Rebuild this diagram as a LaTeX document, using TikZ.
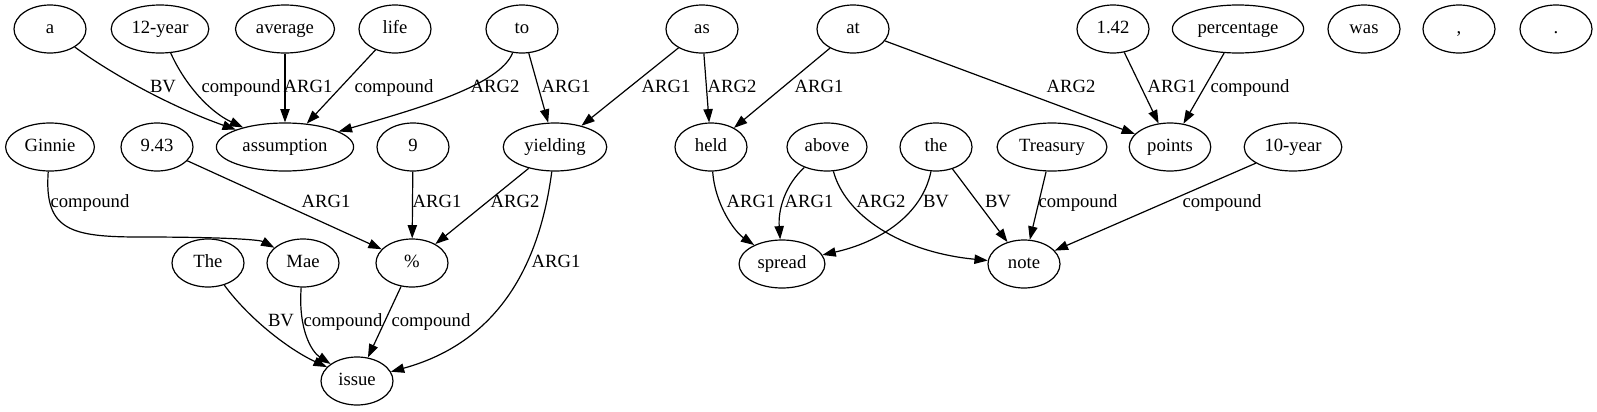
\documentclass[tikz,border=0pt]{standalone}
\usepackage{fontspec}
\setmainfont{Liberation Serif}
\usetikzlibrary{arrows.meta,shapes.geometric}

\begin{document}
\begin{tikzpicture}
  [
    x=0.75pt, y=-0.75pt,
    >={Triangle[length=10pt, width=7pt]},
    word/.style={draw, ellipse, line width=0.9pt, minimum width=54pt, minimum height=36pt,
      inner xsep=4.5pt, inner ysep=1pt, text height=10pt, text depth=3pt,
      font=\fontsize{14}{16}\selectfont},
    lbl/.style={inner sep=0pt, text height=10pt, text depth=3pt, font=\fontsize{14}{16}\selectfont},
    dep/.style={->, line width=0.9pt},
  ]
  \useasboundingbox (0,0) rectangle (1597,411);

  % first row
  \node [word] (a) at (50,29) {a};
  \node [word] (y12) at (160,29) {12-year};
  \node [word] (average) at (285,29) {average};
  \node [word] (life) at (395,29) {life};
  \node [word] (to) at (522,29) {to};
  \node [word] (as) at (702,29) {as};
  \node [word] (at) at (853,29) {at};
  \node [word] (p142) at (1113,29) {1.42};
  \node [word] (percentage) at (1238,29) {percentage};
  \node [word] (was) at (1364,29) {was};
  \node [word] (comma) at (1459,29) {,};
  \node [word] (period) at (1556,29) {.};

  % second row
  \node [word] (ginnie) at (50,147) {Ginnie};
  \node [word] (p943) at (157,147) {9.43};
  \node [word] (assumption) at (285,147) {assumption};
  \node [word] (nine) at (413,147) {9};
  \node [word] (yielding) at (555,147) {yielding};
  \node [word] (held) at (711,147) {held};
  \node [word] (above) at (827,147) {above};
  \node [word] (the) at (936,147) {the};
  \node [word] (treasury) at (1052,147) {Treasury};
  \node [word] (points) at (1170,147) {points};
  \node [word] (y10) at (1293,147) {10-year};

  % third and fourth row
  \node [word] (The) at (208,263) {The};
  \node [word] (mae) at (303,263) {Mae};
  \node [word] (pct) at (412,263) {\%};
  \node [word] (spread) at (782,264) {spread};
  \node [word] (note) at (1024,264) {note};
  \node [word] (issue) at (357,381) {issue};

  % edges into the second row
  \draw [dep] (a) .. controls (120,80) and (180,110) .. (assumption);
  \draw [dep] (y12) .. controls (185,85) and (210,112) .. (assumption);
  \draw [dep] (average) -- (assumption);
  \draw [dep] (life) -- (assumption);
  \draw [dep] (to) .. controls (500,85) and (420,108) .. (assumption);
  \draw [dep] (to) -- (yielding);
  \draw [dep] (as) -- (yielding);
  \draw [dep] (as) -- (held);
  \draw [dep] (at) -- (held);
  \draw [dep] (at) -- (points);
  \draw [dep] (p142) -- (points);
  \draw [dep] (percentage) -- (points);

  \node [lbl] at (163,88) {BV};
  \node [lbl] at (241,88) {compound};
  \node [lbl] at (308,88) {ARG1};
  \node [lbl] at (394,88) {compound};
  \node [lbl] at (495,88) {ARG2};
  \node [lbl] at (566,88) {ARG1};
  \node [lbl] at (666,88) {ARG1};
  \node [lbl] at (732,88) {ARG2};
  \node [lbl] at (819,88) {ARG1};
  \node [lbl] at (1071,88) {ARG2};
  \node [lbl] at (1172,88) {ARG1};
  \node [lbl] at (1250,88) {compound};

  % edges into the third row
  \draw [dep] (ginnie) .. controls (44,230) and (70,237) .. (140,237)
    .. controls (230,237) and (260,240) .. (mae);
  \draw [dep] (p943) -- (pct);
  \draw [dep] (nine) -- (pct);
  \draw [dep] (yielding) -- (pct);
  \draw [dep] (held) .. controls (715,205) and (735,232) .. (spread);
  \draw [dep] (above) .. controls (785,185) and (778,210) .. (spread);
  \draw [dep] (above) .. controls (845,215) and (900,252) .. (note);
  \draw [dep] (the) .. controls (922,215) and (880,242) .. (spread);
  \draw [dep] (the) -- (note);
  \draw [dep] (treasury) -- (note);
  \draw [dep] (y10) -- (note);

  \node [lbl] at (90,203) {compound};
  \node [lbl] at (326,203) {ARG1};
  \node [lbl] at (437,203) {ARG1};
  \node [lbl] at (515,203) {ARG2};
  \node [lbl] at (751,203) {ARG1};
  \node [lbl] at (809,203) {ARG1};
  \node [lbl] at (881,203) {ARG2};
  \node [lbl] at (936,203) {BV};
  \node [lbl] at (998,203) {BV};
  \node [lbl] at (1078,203) {compound};
  \node [lbl] at (1222,203) {compound};

  % edges into issue
  \draw [dep] (yielding) .. controls (535,300) and (470,350) .. (issue);
  \draw [dep] (The) .. controls (250,320) and (290,350) .. (issue);
  \draw [dep] (mae) .. controls (298,330) and (312,352) .. (issue);
  \draw [dep] (pct) -- (issue);

  \node [lbl] at (556,263) {ARG1};
  \node [lbl] at (281,322) {BV};
  \node [lbl] at (343,322) {compound};
  \node [lbl] at (431,322) {compound};
\end{tikzpicture}
\end{document}
